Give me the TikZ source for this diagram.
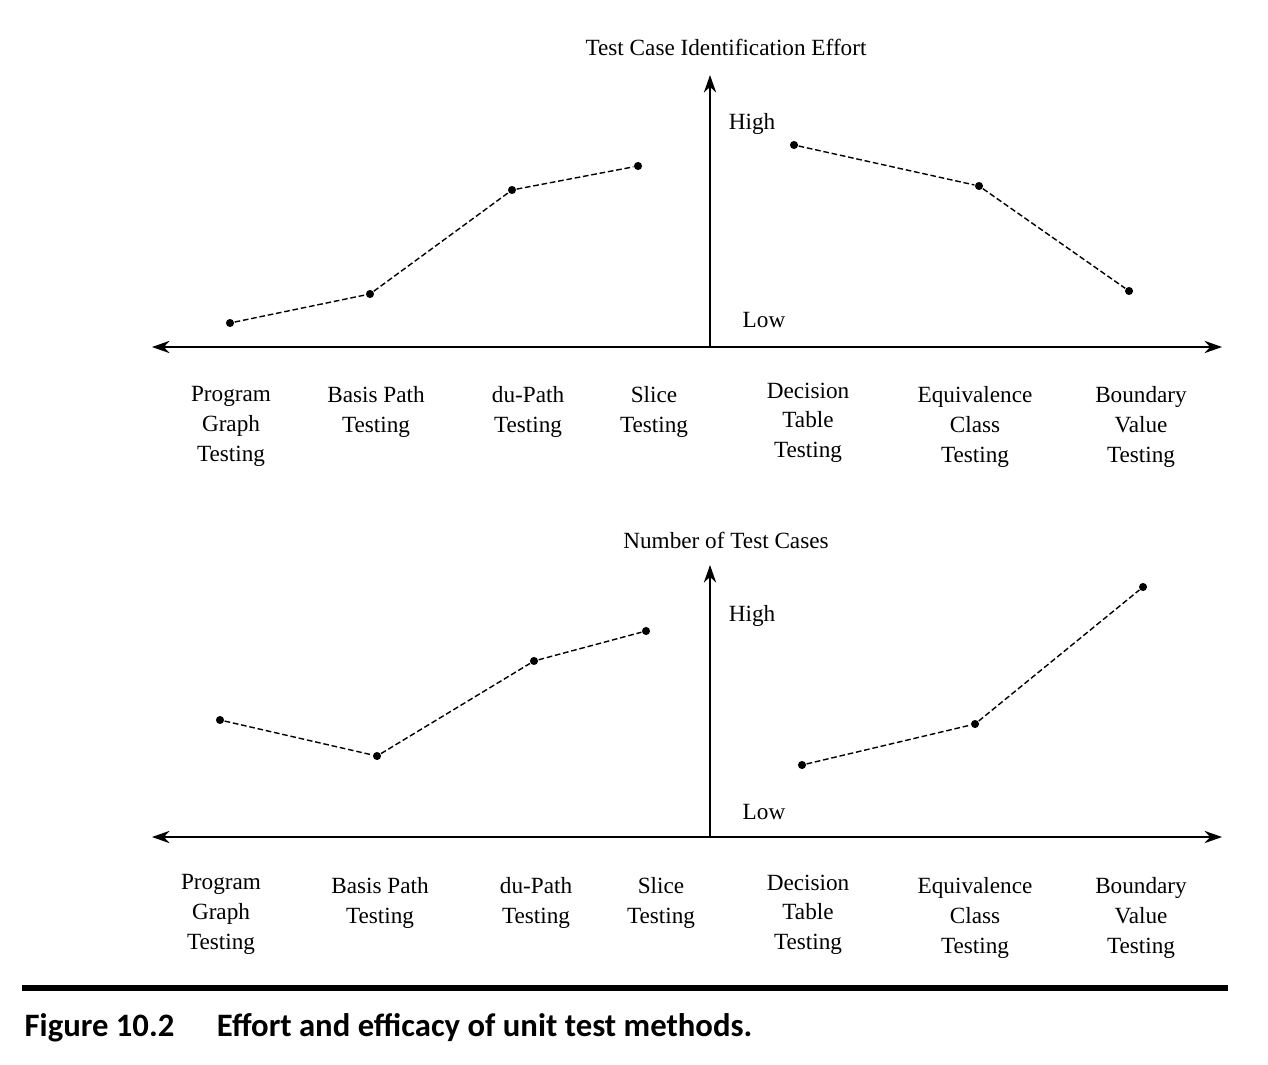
\documentclass[tikz,border=0pt]{standalone}
\usepackage{fontspec}
\setmainfont{Liberation Serif}
\newfontfamily\capfont{Carlito}
\usetikzlibrary{arrows.meta}
\begin{document}
\begin{tikzpicture}[x=0.01cm,y=-0.01cm,
  lbl/.style={font=\fontsize{6.6}{8.5}\selectfont,align=center,inner sep=0pt},
  pt/.style={circle,fill=black,inner sep=0pt,minimum size=2.3pt},
  axis/.style={line width=0.45pt,-{Stealth[length=5pt,width=3.5pt]}},
  conn/.style={dash pattern=on 1.6pt off 0.8pt,line width=0.4pt}]
\useasboundingbox (0,0) rectangle (1268,1064);
% top chart
\coordinate (tl) at (152,347); \coordinate (tr) at (1222,347);
\coordinate (to) at (710,347); \coordinate (tt) at (710,75);
\draw[axis,{Stealth[length=5pt,width=3.5pt]}-{Stealth[length=5pt,width=3.5pt]}] (tl) -- (tr);
\draw[axis] (to) -- (tt);
\node[lbl] (t1) at (726,47) {Test Case Identification Effort};
\node[lbl] (th) at (752,124) {High};
\node[lbl] (tlo) at (764,320) {Low};
\node[pt] (a1) at (230,323) {}; \node[pt] (a2) at (370,294) {};
\node[pt] (a3) at (512,190) {}; \node[pt] (a4) at (638,166) {};
\node[pt] (a5) at (794,145) {}; \node[pt] (a6) at (979,186) {};
\node[pt] (a7) at (1129,291) {};
\draw[conn] (a1)--(a2)--(a3)--(a4);
\draw[conn] (a5)--(a6)--(a7);
\node[lbl,anchor=north] (l1) at (231,386) {Program\\Graph\\Testing};
\node[lbl,anchor=north] (l2) at (376,386) {Basis Path\\Testing};
\node[lbl,anchor=north] (l3) at (528,386) {du-Path\\Testing};
\node[lbl,anchor=north] (l4) at (654,386) {Slice\\Testing};
\node[lbl,anchor=north] (l5) at (808,382) {Decision\\Table\\Testing};
\node[lbl,anchor=north] (l6) at (975,386) {Equivalence\\Class\\Testing};
\node[lbl,anchor=north] (l7) at (1141,386) {Boundary\\Value\\Testing};
% bottom chart
\coordinate (bl) at (152,837); \coordinate (br) at (1222,837);
\coordinate (bo) at (710,837); \coordinate (bt) at (710,565);
\draw[axis,{Stealth[length=5pt,width=3.5pt]}-{Stealth[length=5pt,width=3.5pt]}] (bl) -- (br);
\draw[axis] (bo) -- (bt);
\node[lbl] (b1) at (726,540) {Number of Test Cases};
\node[lbl] (bh) at (752,616) {High};
\node[lbl] (blo) at (764,812) {Low};
\node[pt] (c1) at (220,720) {}; \node[pt] (c2) at (377,756) {};
\node[pt] (c3) at (534,661) {}; \node[pt] (c4) at (646,631) {};
\node[pt] (c5) at (802,765) {}; \node[pt] (c6) at (975,724) {};
\node[pt] (c7) at (1143,587) {};
\draw[conn] (c1)--(c2)--(c3)--(c4);
\draw[conn] (c5)--(c6)--(c7);
\node[lbl,anchor=north] (m1) at (221,874) {Program\\Graph\\Testing};
\node[lbl,anchor=north] (m2) at (380,877) {Basis Path\\Testing};
\node[lbl,anchor=north] (m3) at (536,877) {du-Path\\Testing};
\node[lbl,anchor=north] (m4) at (661,877) {Slice\\Testing};
\node[lbl,anchor=north] (m5) at (808,874) {Decision\\Table\\Testing};
\node[lbl,anchor=north] (m6) at (975,877) {Equivalence\\Class\\Testing};
\node[lbl,anchor=north] (m7) at (1141,877) {Boundary\\Value\\Testing};
% caption
\coordinate (r1) at (22,988); \coordinate (r2) at (1228,988);
\draw[line width=1.7pt] (r1) -- (r2);
\node[anchor=west,inner sep=0pt,font=\capfont\bfseries\fontsize{9.3}{11}\selectfont] (cap) at (24,1028) {Figure 10.2\hspace{1.3em}Effort and efficacy of unit test methods.};
\end{tikzpicture}
\end{document}
